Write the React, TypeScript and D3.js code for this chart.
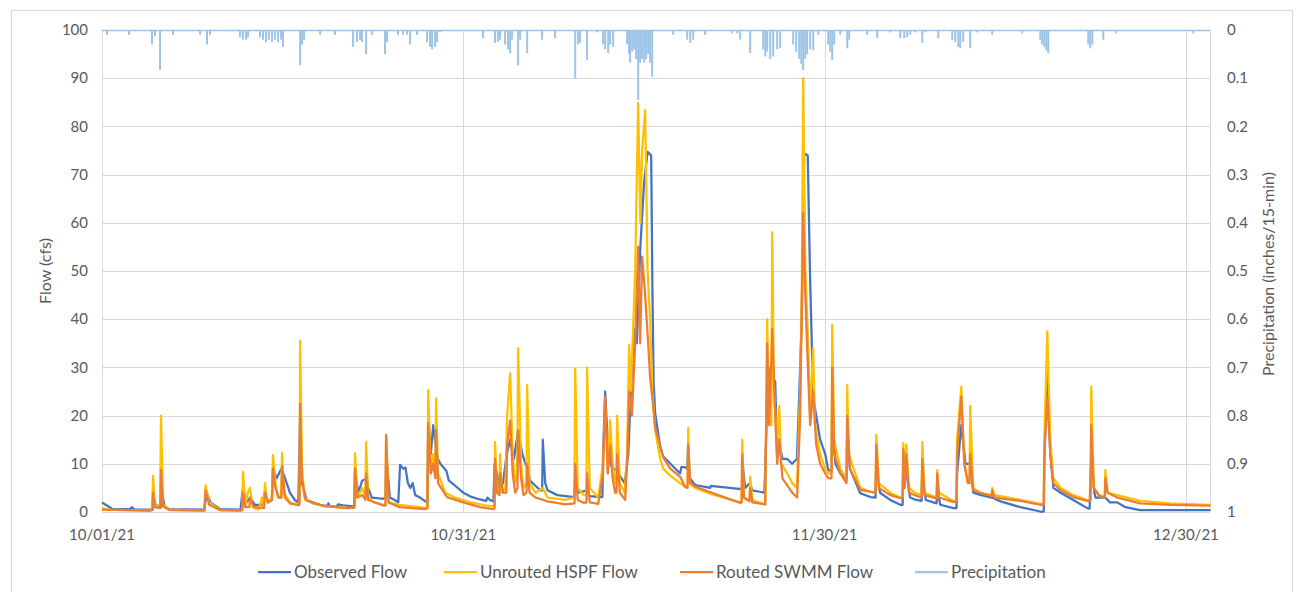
import React from 'react';
import * as d3 from 'd3';

// days since 10/01/21 00:00, value in cfs
const observedFlow: [number, number][] = [
  [0, 2], [0.3, 1.5], [0.9, 0.6], [2.3, 0.6], [2.5, 1], [2.7, 0.5], [4.2, 0.5], [4.3, 3], [4.5, 1], [4.9, 1], [5.0, 4], [5.2, 1], [5.6, 0.6],
  [8.5, 0.5], [8.7, 4], [9.0, 2], [9.8, 0.6], [11.5, 0.5], [11.7, 5], [12.0, 2], [12.3, 3], [12.7, 1.5], [13.3, 1.5], [13.5, 4], [13.8, 2],
  [14.1, 2.5], [14.2, 9], [14.5, 7], [14.9, 9], [15.2, 7], [15.6, 4], [16.0, 2.5], [16.3, 2], [16.45, 20], [16.6, 6], [17.0, 2.5], [17.5, 2],
  [18.1, 1.5], [18.7, 1.2], [18.8, 1.8], [18.9, 1.2], [19.5, 1.1], [19.6, 1.6], [20.0, 1.4], [20.6, 1.2], [20.95, 1.2], [21.0, 8], [21.3, 4],
  [21.6, 6.5], [22.0, 7], [22.1, 5], [22.4, 3], [23.1, 2.8], [23.55, 2.8], [23.6, 12], [23.9, 3], [24.3, 2.5], [24.6, 2], [24.75, 9.8],
  [25.0, 9], [25.2, 9.2], [25.4, 6], [25.6, 5], [25.8, 6], [26.0, 3.5], [26.4, 3], [26.8, 2.3], [27.0, 2], [27.1, 20], [27.3, 12], [27.5, 18],
  [27.7, 14], [27.9, 11], [28.1, 10], [28.6, 8.5], [28.8, 6.5], [29.3, 5.5], [30.0, 4], [30.6, 3.2], [31.4, 2.6], [31.9, 2.3], [32.0, 3],
  [32.2, 2.5], [32.5, 2.2], [32.6, 10], [32.8, 8], [33.0, 5], [33.3, 6], [33.6, 12], [33.9, 15], [34.2, 11], [34.55, 17], [34.9, 12],
  [35.3, 9], [35.55, 6.5], [35.96, 5.5], [36.4, 4.5], [36.55, 4.5], [36.6, 15], [36.8, 6], [37.0, 4.5], [37.8, 3.5], [38.5, 3.3], [39.2, 3.1],
  [39.3, 8], [39.5, 4], [40.3, 4.5], [40.5, 3.3], [41.4, 3.1], [41.55, 3.1], [41.6, 12], [41.78, 25], [42.0, 14], [42.2, 10], [42.4, 9],
  [42.8, 8.7], [43.0, 7.5], [43.4, 6], [43.7, 12], [44.0, 30], [44.27, 38], [44.4, 35], [44.7, 55], [45.0, 68], [45.3, 74.7], [45.6, 74],
  [45.7, 47], [45.8, 27], [45.93, 20.5], [46.35, 13.5], [46.6, 11.5], [47.2, 10], [48.0, 8], [48.1, 9.3], [48.4, 9.3], [48.6, 9], [48.67, 14],
  [48.8, 7], [49.25, 5.6], [50.5, 5], [50.55, 5.4], [52.9, 4.8], [53.15, 4.8], [53.2, 10], [53.4, 5], [53.8, 6], [54.0, 4.5], [54.6, 4.2],
  [55.0, 4], [55.2, 20], [55.5, 30], [55.7, 28], [55.9, 27], [56.06, 11.4], [56.2, 15], [56.5, 11], [56.9, 11], [57.3, 10], [57.7, 11],
  [57.9, 25], [58.1, 40], [58.3, 74.4], [58.6, 74], [58.8, 48], [59.05, 24], [59.3, 20], [59.63, 15], [60.05, 12], [60.3, 8.7], [60.58, 8.5],
  [60.63, 20], [60.9, 10], [61.3, 8], [61.82, 7], [61.88, 18], [62.1, 9], [62.96, 3.9], [63.8, 3.1], [64.23, 3], [64.29, 10], [64.6, 4],
  [65.45, 2.5], [66.28, 1.5], [66.48, 1.5], [66.53, 10], [66.8, 8], [67.1, 3], [67.6, 2.5], [68.05, 2.3], [68.11, 8], [68.4, 2.5], [69.3, 1.8],
  [69.35, 5], [69.6, 1.5], [70.68, 0.8], [70.95, 0.8], [71.0, 8], [71.35, 18], [71.7, 10], [72.09, 10], [72.34, 4], [73.0, 3.5], [73.9, 3],
  [74.6, 2.2], [76.25, 1], [77.9, 0.1], [78.2, 0.1], [78.24, 10], [78.49, 30], [78.74, 12], [79.0, 5], [79.6, 4], [80.65, 2.5], [81.8, 0.8],
  [82.0, 0.7], [82.14, 12], [82.4, 4], [82.5, 3], [83.3, 3], [83.7, 2], [84.3, 2], [84.97, 1], [86.2, 0.4], [92.03, 0.4],
];

const unroutedHspfFlow: [number, number][] = [
  [0, 0.8], [0.5, 0.5], [4.0, 0.3], [4.15, 0.5], [4.24, 7.5], [4.4, 1], [4.65, 1.5], [4.82, 1.5], [4.9, 20], [5.07, 1.5], [5.6, 0.5],
  [8.5, 0.3], [8.6, 5.5], [8.9, 2], [9.8, 0.4], [11.5, 0.3], [11.65, 0.5], [11.71, 8.3], [11.9, 1], [12.1, 4], [12.29, 5], [12.5, 1],
  [13.0, 0.5], [13.29, 3], [13.4, 1], [13.54, 6], [13.7, 2], [14.1, 3], [14.2, 11.8], [14.4, 6], [14.6, 3], [14.88, 3], [14.95, 12.2],
  [15.1, 4], [15.6, 2], [16.3, 1.5], [16.4, 2], [16.45, 35.5], [16.6, 10], [16.8, 3], [17.5, 1.8], [18.5, 1.2], [20.6, 0.8], [20.95, 1],
  [21.01, 12.2], [21.2, 3], [21.6, 5], [21.87, 3], [21.93, 14.5], [22.1, 3], [22.6, 2], [23.4, 1.5], [23.53, 1.5], [23.59, 16], [23.8, 2],
  [24.7, 1.5], [26.4, 1], [26.8, 0.8], [27.02, 1], [27.08, 25.3], [27.3, 8], [27.5, 12], [27.68, 8], [27.74, 23.6], [27.9, 8], [28.5, 4],
  [29.3, 3], [30.6, 2], [32.0, 1.3], [32.5, 1.2], [32.6, 1.5], [32.64, 14.5], [32.8, 4], [33.0, 4], [33.06, 12], [33.2, 4], [33.5, 5],
  [33.64, 20], [33.89, 28.8], [34.1, 12], [34.3, 6], [34.48, 8], [34.55, 34], [34.8, 10], [35.0, 5], [35.24, 6], [35.3, 26.3], [35.5, 6],
  [36.0, 4], [36.6, 5], [37.0, 3], [38.5, 2.5], [39.22, 3], [39.29, 29.7], [39.5, 5], [40.0, 3.5], [40.22, 3.5], [40.28, 30], [40.5, 5],
  [41.2, 3], [41.6, 10], [41.78, 22], [42.0, 8], [42.19, 19], [42.4, 10], [42.6, 6], [42.7, 6], [42.77, 20], [43.0, 6], [43.4, 4], [43.6, 12],
  [43.77, 34.6], [43.9, 25], [44.1, 38], [44.27, 50], [44.52, 84.9], [44.7, 60], [44.85, 75], [45.1, 83.4], [45.3, 50], [45.51, 40],
  [45.7, 25], [45.93, 17], [46.35, 11], [46.6, 9], [47.2, 7.5], [48.0, 6], [48.4, 5.3], [48.62, 5.3], [48.67, 17.4], [48.8, 6], [49.25, 5],
  [50.75, 3.6], [52.99, 2], [53.1, 2], [53.16, 15], [53.3, 3], [53.6, 2.5], [53.76, 2.5], [53.82, 7.3], [54.0, 2.5], [55.07, 1.5],
  [55.23, 40], [55.4, 20], [55.58, 18], [55.65, 58], [55.8, 25], [56.06, 14], [56.23, 22], [56.4, 10], [56.9, 8], [57.3, 6], [57.7, 5],
  [57.97, 25], [58.1, 45], [58.22, 90], [58.4, 50], [58.64, 35], [58.8, 20], [59.05, 34], [59.2, 18], [59.63, 12], [60.05, 9], [60.3, 8],
  [60.57, 8], [60.63, 38.8], [60.8, 15], [61.3, 9], [61.82, 7], [61.88, 26.3], [62.0, 12], [62.96, 5], [63.8, 4.2], [64.23, 4], [64.29, 16],
  [64.5, 6], [65.45, 4], [66.28, 3], [66.48, 3], [66.53, 14.3], [66.65, 6], [66.78, 14], [67.0, 5], [67.5, 4], [68.05, 3.5], [68.11, 14.5],
  [68.3, 4], [69.3, 3], [69.35, 8.7], [69.5, 4], [70.68, 2.3], [70.95, 2.3], [71.0, 15], [71.35, 26], [71.6, 10], [71.9, 6], [72.03, 6],
  [72.09, 22], [72.34, 5], [72.9, 4], [73.87, 3.5], [73.92, 5], [74.1, 3.5], [76.25, 2.5], [77.91, 1.7], [78.2, 1.7], [78.24, 15],
  [78.49, 37.5], [78.74, 15], [78.99, 7], [79.6, 5], [80.65, 3.5], [81.81, 2.5], [82.08, 2.5], [82.14, 26], [82.35, 5], [82.8, 3.5],
  [83.26, 3.2], [83.31, 8.7], [83.5, 4], [84.3, 3.5], [86.21, 2.3], [88.7, 1.8], [92.03, 1.5],
];

const routedSwmmFlow: [number, number][] = [
  [0, 0.5], [4.0, 0.3], [4.18, 0.4], [4.24, 4], [4.4, 1], [4.84, 0.8], [4.9, 8.7], [5.07, 1.2], [5.6, 0.4], [8.5, 0.3], [8.6, 4.5],
  [8.9, 1.5], [9.8, 0.4], [11.5, 0.3], [11.66, 0.4], [11.71, 4], [11.9, 1], [12.24, 1], [12.29, 3], [12.6, 1], [13.45, 0.8], [13.54, 4],
  [13.8, 2], [14.12, 2.5], [14.2, 9], [14.4, 5], [14.7, 3], [14.9, 3], [14.95, 9.5], [15.2, 3], [15.6, 1.8], [16.3, 1.4], [16.4, 1.6],
  [16.45, 22.5], [16.6, 7], [16.9, 2.5], [17.5, 1.9], [18.5, 1.2], [20.35, 0.8], [20.95, 0.9], [21.01, 9], [21.2, 3], [21.6, 3.5],
  [21.88, 2.5], [21.93, 8], [22.1, 2.5], [23.4, 1.3], [23.54, 1.3], [23.59, 16], [23.8, 2], [24.7, 1], [26.8, 0.6], [27.03, 0.8],
  [27.08, 18.4], [27.3, 8], [27.5, 10], [27.68, 7], [27.74, 17], [27.9, 6], [28.65, 3.1], [30.0, 2], [31.4, 1], [32.5, 0.6], [32.6, 0.8],
  [32.64, 11], [32.8, 4], [33.0, 3.5], [33.06, 8], [33.3, 4], [33.58, 4], [33.64, 14], [33.89, 19], [34.1, 8], [34.3, 4], [34.5, 5],
  [34.55, 17], [34.8, 7], [35.0, 3.5], [35.25, 4], [35.3, 10], [35.5, 4], [36.0, 3], [37.0, 2.2], [38.5, 1.6], [39.24, 1.8], [39.29, 10],
  [39.5, 2.5], [40.0, 1.9], [40.23, 2], [40.28, 8], [40.5, 2], [41.2, 1.7], [41.6, 8], [41.78, 24], [42.0, 8], [42.19, 14], [42.4, 7],
  [42.6, 4], [42.72, 4], [42.77, 12], [43.0, 4], [43.44, 2.5], [43.6, 10], [43.77, 25], [44.0, 20], [44.27, 35], [44.52, 55], [44.68, 35],
  [44.85, 53], [45.1, 45], [45.35, 35], [45.51, 28], [45.76, 22], [45.93, 17.6], [46.59, 11.4], [47.18, 9], [48.01, 7.3], [48.42, 5.2],
  [48.62, 5], [48.67, 14], [48.84, 6], [49.25, 5.3], [50.75, 3.9], [52.99, 1.9], [53.11, 2], [53.16, 12], [53.3, 3], [53.77, 2.2],
  [53.82, 5], [54.0, 2], [55.07, 1.6], [55.23, 35], [55.4, 18], [55.65, 38], [55.9, 20], [56.06, 10], [56.23, 15], [56.5, 7], [57.31, 4],
  [57.72, 3], [57.97, 20], [58.22, 62], [58.4, 45], [58.64, 28], [58.8, 18], [59.05, 25], [59.3, 14], [59.63, 10], [60.05, 8], [60.3, 7],
  [60.57, 7], [60.63, 30], [60.8, 12], [61.3, 8], [61.82, 6], [61.88, 20], [62.1, 9], [62.96, 4.6], [63.79, 4.2], [64.23, 4], [64.29, 14],
  [64.5, 5], [65.45, 3.5], [66.28, 2.9], [66.48, 2.9], [66.53, 13], [66.65, 5], [66.78, 12], [67.0, 4], [67.5, 3.5], [68.05, 3], [68.11, 11],
  [68.3, 3.5], [69.3, 2.8], [69.35, 8], [69.5, 3], [70.68, 2.1], [70.95, 2.1], [71.0, 12], [71.35, 24], [71.6, 10], [71.9, 6], [72.03, 6],
  [72.09, 12], [72.34, 4.5], [72.9, 4], [73.87, 3.3], [73.92, 4.5], [74.1, 3], [76.25, 2.3], [77.91, 1.5], [78.2, 1.5], [78.24, 12],
  [78.49, 24], [78.74, 12], [78.99, 6], [79.6, 4.5], [80.65, 3.1], [81.81, 2.3], [82.08, 2.3], [82.14, 18], [82.35, 5], [82.8, 3.3],
  [83.26, 3], [83.31, 7], [83.5, 4], [84.3, 3.0], [86.21, 1.8], [88.7, 1.5], [92.03, 1.3],
];

// days since 10/01/21, inches per 15 minutes
const precipitation: [number, number][] = [
  [0.42, 0.01], [2.24, 0.01], [4.15, 0.03], [4.4, 0.012], [4.82, 0.083], [5.9, 0.01], [8.14, 0.01], [8.72, 0.03], [8.97, 0.01],
  [11.46, 0.015], [11.71, 0.02], [11.96, 0.02], [12.13, 0.015], [13.12, 0.015], [13.37, 0.02], [13.62, 0.025], [13.87, 0.02],
  [14.12, 0.025], [14.37, 0.02], [14.62, 0.025], [14.87, 0.02], [15.03, 0.035], [16.45, 0.073], [16.61, 0.03], [16.78, 0.02],
  [18.11, 0.01], [19.35, 0.01], [20.85, 0.035], [21.18, 0.025], [21.43, 0.02], [21.59, 0.025], [21.93, 0.05], [22.43, 0.01],
  [23.5, 0.05], [23.67, 0.025], [24.58, 0.01], [25.0, 0.01], [25.33, 0.01], [25.58, 0.03], [26.16, 0.01], [26.99, 0.025], [27.24, 0.035],
  [27.41, 0.04], [27.66, 0.035], [27.82, 0.025], [28.07, 0.005], [31.64, 0.017], [32.64, 0.027], [32.89, 0.025], [33.06, 0.02],
  [33.47, 0.03], [33.72, 0.04], [33.89, 0.048], [34.05, 0.02], [34.55, 0.073], [34.72, 0.02], [35.3, 0.048], [36.54, 0.02], [37.62, 0.017],
  [39.29, 0.1], [39.53, 0.03], [39.7, 0.027], [40.28, 0.062], [41.11, 0.005], [41.61, 0.03], [41.78, 0.04], [42.03, 0.048], [42.19, 0.03],
  [42.44, 0.035], [43.6, 0.03], [43.77, 0.05], [43.85, 0.068], [44.02, 0.045], [44.19, 0.04], [44.35, 0.06], [44.52, 0.145], [44.68, 0.068],
  [44.85, 0.06], [45.02, 0.068], [45.18, 0.06], [45.35, 0.05], [45.51, 0.068], [45.68, 0.097], [47.43, 0.01], [48.59, 0.02], [48.84, 0.027],
  [49.09, 0.02], [50.08, 0.01], [52.33, 0.007], [52.74, 0.007], [52.99, 0.02], [53.82, 0.048], [54.9, 0.04], [55.07, 0.055], [55.23, 0.045],
  [55.48, 0.06], [55.73, 0.055], [56.06, 0.04], [56.31, 0.038], [57.39, 0.03], [57.64, 0.045], [57.89, 0.06], [58.06, 0.07], [58.22, 0.083],
  [58.39, 0.06], [58.55, 0.05], [58.8, 0.04], [59.05, 0.042], [59.47, 0.01], [60.3, 0.03], [60.47, 0.045], [60.63, 0.062], [60.8, 0.03],
  [61.3, 0.01], [61.88, 0.038], [62.04, 0.02], [63.54, 0.01], [64.37, 0.017], [65.45, 0.005], [66.28, 0.017], [66.61, 0.017], [66.86, 0.015],
  [67.11, 0.01], [67.52, 0.005], [68.11, 0.027], [68.36, 0.005], [69.44, 0.017], [70.6, 0.02], [70.85, 0.025], [71.1, 0.035], [71.26, 0.038],
  [71.51, 0.025], [72.09, 0.038], [72.67, 0.005], [73.92, 0.01], [76.41, 0.007], [77.91, 0.02], [78.07, 0.03], [78.24, 0.035], [78.41, 0.042],
  [78.57, 0.048], [81.89, 0.03], [82.06, 0.038], [82.23, 0.03], [83.14, 0.02], [84.22, 0.007], [90.61, 0.007],
];

const flowTicks = [0, 10, 20, 30, 40, 50, 60, 70, 80, 90, 100];
const precipTicks = [0, 0.1, 0.2, 0.3, 0.4, 0.5, 0.6, 0.7, 0.8, 0.9, 1];
const dateTickDays = [0, 30, 60, 90];
const dateTickLabels = ['10/01/21', '10/31/21', '11/30/21', '12/30/21'];
const seriesNames = ['Observed Flow', 'Unrouted HSPF Flow', 'Routed SWMM Flow', 'Precipitation'];
const seriesColors = ['#4472C4', '#FFC000', '#ED7D31', '#9DC3E6'];

const START = Date.UTC(2021, 9, 1);
const toDate = (d: number) => new Date(START + d * 864e5);

export default function App() {
  const width = 1295;
  const height = 592;
  const left = 102, right = 1210, top = 30, bottom = 512;

  const x = d3.scaleUtc().domain([toDate(0), toDate(92)]).range([left, right]);
  const yFlow = d3.scaleLinear().domain([0, 100]).range([bottom, top]);
  const yPrecip = d3.scaleLinear().domain([0, 1]).range([top, bottom]);

  const line = d3.line<[number, number]>()
    .x((d) => x(toDate(d[0])))
    .y((d) => yFlow(d[1]));

  const font = 'Lato, "Open Sans", sans-serif';
  const textColor = '#595959';
  const legendX = [258, 444, 680, 915];
  const flows = [observedFlow, unroutedHspfFlow, routedSwmmFlow];

  return (
    <svg width={width} height={height} style={{ position: 'absolute', left: 0, top: 0, background: '#fff' }} fontFamily={font}>
      <rect x={11.5} y={10.5} width={1281} height={600} fill="#fff" stroke="#D9D9D9" />

      {/* gridlines */}
      {flowTicks.map((t) => (
        <line key={'g' + t} x1={left} x2={right} y1={Math.round(yFlow(t)) + 0.5} y2={Math.round(yFlow(t)) + 0.5} stroke="#D9D9D9" />
      ))}
      {dateTickDays.map((d) => (
        <line key={'v' + d} x1={Math.round(x(toDate(d))) + 0.5} x2={Math.round(x(toDate(d))) + 0.5} y1={top} y2={bottom} stroke="#D9D9D9" />
      ))}
      <line x1={right + 0.5} x2={right + 0.5} y1={top} y2={bottom} stroke="#D9D9D9" />

      {/* flows */}
      {flows.map((s, i) => (
        <path key={'f' + i} d={line(s) ?? ''} fill="none" stroke={seriesColors[i]} strokeWidth={2.25} strokeLinejoin="round" />
      ))}

      {/* precipitation, secondary reversed axis */}
      <line x1={left} x2={right} y1={yPrecip(0) + 0.5} y2={yPrecip(0) + 0.5} stroke={seriesColors[3]} strokeWidth={1.5} />
      {precipitation.map((p, i) => (
        <line key={'p' + i} x1={x(toDate(p[0]))} x2={x(toDate(p[0]))} y1={yPrecip(0)} y2={yPrecip(p[1])} stroke={seriesColors[3]} strokeWidth={2} />
      ))}

      {/* left axis */}
      {flowTicks.map((t) => (
        <text key={'l' + t} x={88} y={yFlow(t)} dy="0.35em" textAnchor="end" fontSize={15} fill={textColor}>{t}</text>
      ))}
      {/* right axis */}
      {precipTicks.map((t) => (
        <text key={'r' + t} x={1227} y={yPrecip(t)} dy="0.35em" textAnchor="start" fontSize={15} fill={textColor}>{d3.format('~g')(t)}</text>
      ))}
      {/* x axis */}
      {dateTickDays.map((d, i) => (
        <text key={'x' + d} x={x(toDate(d))} y={540} textAnchor="middle" fontSize={15} fill={textColor}>{dateTickLabels[i]}</text>
      ))}

      <text transform="translate(51,271) rotate(-90)" textAnchor="middle" fontSize={16} fill={textColor}>Flow (cfs)</text>
      <text transform="translate(1274,274) rotate(-90)" textAnchor="middle" fontSize={16} fill={textColor}>Precipitation (inches/15-min)</text>

      {/* legend */}
      {seriesNames.map((name, i) => (
        <g key={name} transform={`translate(${legendX[i]},572)`}>
          <line x1={0} x2={33} y1={0} y2={0} stroke={seriesColors[i]} strokeWidth={2.25} />
          <text x={36} y={0} dy="0.35em" fontSize={17} fill={textColor}>{name}</text>
        </g>
      ))}
    </svg>
  );
}
